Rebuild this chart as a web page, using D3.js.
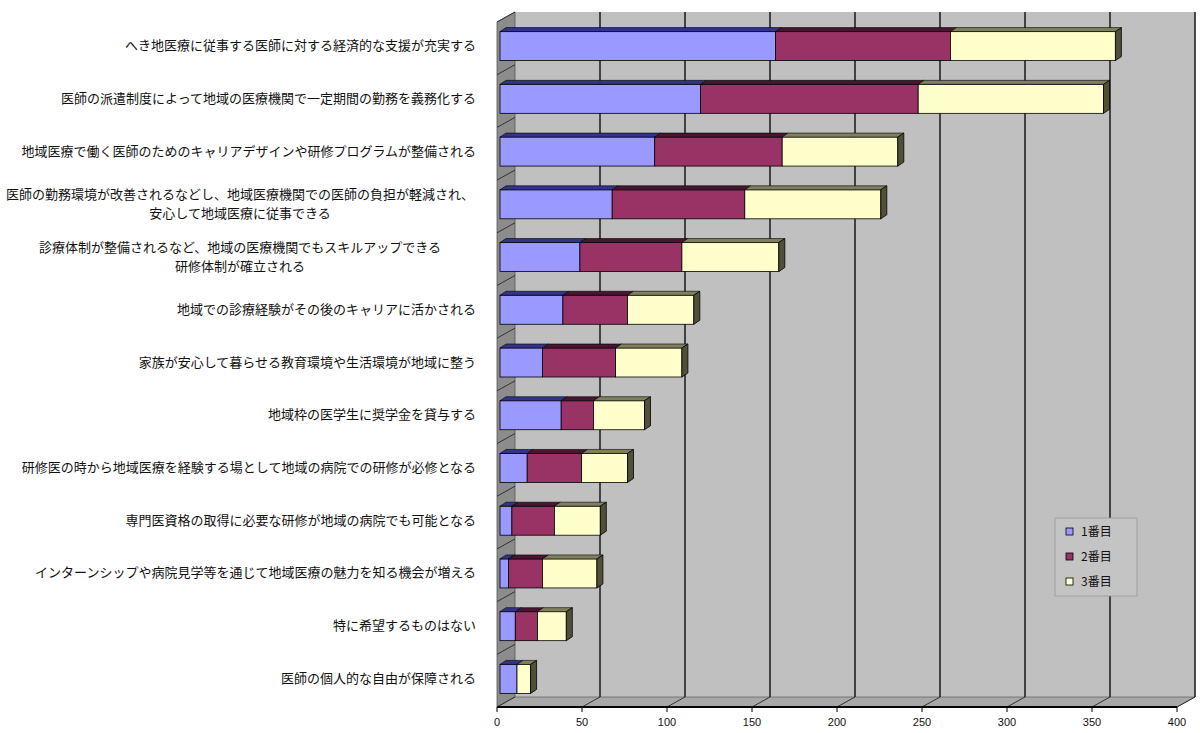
<!DOCTYPE html>
<html><head><meta charset="utf-8">
<script src="https://cdn.jsdelivr.net/npm/d3@7"></script>
<style>body{margin:0;background:#fff}svg{display:block}</style>
</head><body>
<svg id="c" width="1200" height="733"></svg>
<script>
const categories = [
  ["へき地医療に従事する医師に対する経済的な支援が充実する"],
  ["医師の派遣制度によって地域の医療機関で一定期間の勤務を義務化する"],
  ["地域医療で働く医師のためのキャリアデザインや研修プログラムが整備される"],
  ["医師の勤務環境が改善されるなどし、地域医療機関での医師の負担が軽減され、", "安心して地域医療に従事できる"],
  ["診療体制が整備されるなど、地域の医療機関でもスキルアップできる", "研修体制が確立される"],
  ["地域での診療経験がその後のキャリアに活かされる"],
  ["家族が安心して暮らせる教育環境や生活環境が地域に整う"],
  ["地域枠の医学生に奨学金を貸与する"],
  ["研修医の時から地域医療を経験する場として地域の病院での研修が必修となる"],
  ["専門医資格の取得に必要な研修が地域の病院でも可能となる"],
  ["インターンシップや病院見学等を通じて地域医療の魅力を知る機会が増える"],
  ["特に希望するものはない"],
  ["医師の個人的な自由が保障される"]
];
const seriesNames = ["1番目", "2番目", "3番目"];
const first  = [162, 118, 91, 66, 47, 37, 25, 36, 16, 7, 5, 9, 10];
const second = [103, 128, 75, 78, 60, 38, 43, 19, 32, 25, 20, 13, 0];
const third  = [97, 109, 68, 80, 57, 39, 39, 30, 27, 27, 32, 17, 8];
const tickValues = [0, 50, 100, 150, 200, 250, 300, 350, 400];

const front  = ["#9999ff", "#993366", "#ffffcc"];
const topC   = ["#33338a", "#4a1530", "#80805e"];
const sideC  = ["#4a4a99", "#5a1f3c", "#505038"];

const svg = d3.select("#c");
const DX = 18, DY = -10;
const x = d3.scaleLinear().domain([0, 400]).range([497, 1177]);
const y = d3.scaleBand().domain(d3.range(categories.length)).range([22, 707]).paddingInner(0.45).paddingOuter(0.22);
const yb = d3.scaleBand().domain(d3.range(categories.length)).range([22, 707]);

const fT = 22, fB = 707;
// walls
svg.append("polygon").attr("points", [[x(0)+DX, fT+DY],[x(400)+DX, fT+DY],[x(400)+DX, fB+DY],[x(0)+DX, fB+DY]].join(" ")).attr("fill", "#c0c0c0");
svg.append("polygon").attr("points", [[x(0), fT],[x(0)+DX, fT+DY],[x(0)+DX, fB+DY],[x(0), fB]].join(" ")).attr("fill", "#8c8c8c").attr("stroke", "#555").attr("stroke-width", 0.8);
svg.append("polygon").attr("points", [[x(0), fB],[x(0)+DX, fB+DY],[x(400)+DX, fB+DY],[x(400), fB]].join(" ")).attr("fill", "#a8a8a8").attr("stroke", "#666").attr("stroke-width", 0.8);

// gridlines
tickValues.forEach(v => {
  if (v === 0) return;
  svg.append("line").attr("x1", x(v)+DX).attr("x2", x(v)+DX).attr("y1", fT+DY).attr("y2", fB+DY)
     .attr("stroke", "#222").attr("stroke-width", 1.6);
  svg.append("line").attr("x1", x(v)+DX).attr("x2", x(v)).attr("y1", fB+DY).attr("y2", fB)
     .attr("stroke", "#333").attr("stroke-width", 1);
});

// category ticks on left wall
d3.range(categories.length + 1).forEach(i => {
  const yy = 22 + i * yb.step();
  svg.append("line").attr("x1", x(0)).attr("x2", x(0)+DX).attr("y1", yy).attr("y2", yy+DY).attr("stroke", "#333").attr("stroke-width", 1);
});

// bars
const stackData = categories.map((c, i) => ({ i, v: [first[i], second[i], third[i]] }));
const d = 6, dv = -4, off = 3;
const gBars = svg.append("g");
stackData.forEach(row => {
  const yt = y(row.i) - 2, h = y.bandwidth();
  let acc = 0;
  const g = gBars.append("g");
  let lastK = -1;
  row.v.forEach((val, k) => {
    if (val <= 0) return;
    const xa = x(acc) + off, xb = x(acc + val) + off;
    g.append("rect").attr("x", xa).attr("y", yt).attr("width", xb - xa).attr("height", h)
      .attr("fill", front[k]).attr("stroke", "#000").attr("stroke-width", 0.8);
    g.append("polygon").attr("points", [[xa, yt],[xa+d, yt+dv],[xb+d, yt+dv],[xb, yt]].join(" "))
      .attr("fill", topC[k]).attr("stroke", "#000").attr("stroke-width", 0.6);
    acc += val; lastK = k;
  });
  const xe = x(acc) + off;
  g.append("polygon").attr("points", [[xe, yt],[xe+d, yt+dv],[xe+d, yt+h+dv],[xe, yt+h]].join(" "))
    .attr("fill", sideC[lastK]).attr("stroke", "#000").attr("stroke-width", 0.8);
});

// x axis
svg.append("line").attr("x1", x(0)).attr("x2", x(400)).attr("y1", fB).attr("y2", fB).attr("stroke", "#000").attr("stroke-width", 2);
tickValues.forEach(v => {
  svg.append("line").attr("x1", x(v)).attr("x2", x(v)).attr("y1", fB).attr("y2", fB+5).attr("stroke", "#000").attr("stroke-width", 1);
  svg.append("text").attr("x", x(v)).attr("y", 726).attr("text-anchor", "middle")
    .attr("font-family", "Liberation Sans, Arial, sans-serif").attr("font-size", 11).attr("fill", "#111").text(v);
});

// category labels
categories.forEach((lines, i) => {
  const cy = y(i) + y.bandwidth() / 2 - 2;
  if (lines.length === 1) {
    svg.append("text").attr("x", 476).attr("y", cy + 4).attr("text-anchor", "end")
      .attr("font-family", "Noto Sans CJK JP, sans-serif").attr("font-size", 13).attr("fill", "#111").text(lines[0]);
  } else {
    lines.forEach((t, j) => {
      svg.append("text").attr("x", 240).attr("y", cy + 4 + (j - 0.5) * 19).attr("text-anchor", "middle")
        .attr("font-family", "Noto Sans CJK JP, sans-serif").attr("font-size", 13).attr("fill", "#111").text(t);
    });
  }
});

// legend
const lg = svg.append("g").attr("transform", "translate(1055,518)");
lg.append("rect").attr("width", 82).attr("height", 78).attr("fill", "#c4c4c4").attr("stroke", "#999").attr("stroke-width", 0.8);
seriesNames.forEach((n, k) => {
  lg.append("rect").attr("x", 11).attr("y", 10 + k * 25).attr("width", 7).attr("height", 7)
    .attr("fill", front[k]).attr("stroke", "#000").attr("stroke-width", 0.8);
  lg.append("text").attr("x", 26).attr("y", 18 + k * 25).attr("font-family", "Noto Sans CJK JP, sans-serif")
    .attr("font-size", 12).attr("fill", "#111").text(n);
});
</script>
</body></html>
